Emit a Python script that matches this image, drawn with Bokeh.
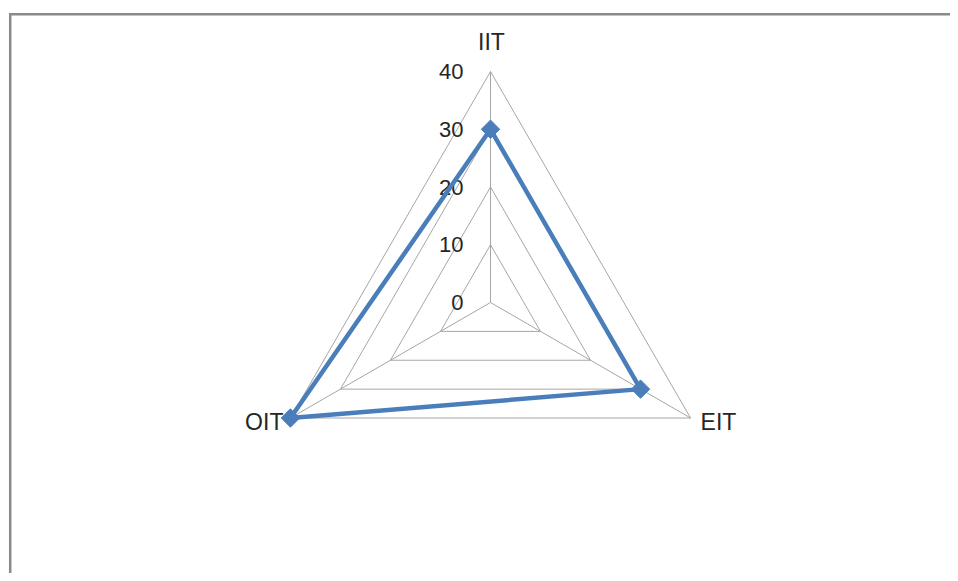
import math
from bokeh.plotting import figure
from bokeh.models import Range1d, ColumnDataSource
from bokeh.core.properties import value
from bokeh.embed import file_html
from bokeh.resources import INLINE

# ---- data ----
categories = ["IIT", "EIT", "OIT"]
series_values = [30, 30, 40]
ring_values = [0, 10, 20, 30, 40]
tick_labels = ["0", "10", "20", "30", "40"]
angles_deg = [90, -30, 210]

R_MAX = 40
W, H = 950, 573
PX_PER_UNIT = 231 / 40.0
CX, CY = 490, 302   # centre of the radar (pixels from top-left of canvas)

x0 = -CX / PX_PER_UNIT
x1 = (W - CX) / PX_PER_UNIT
y1 = CY / PX_PER_UNIT
y0 = -(H - CY) / PX_PER_UNIT

p = figure(width=W, height=H, output_backend="svg", toolbar_location=None,
           x_range=Range1d(x0, x1), y_range=Range1d(y0, y1),
           min_border_left=0, min_border_top=0, min_border_right=0, min_border_bottom=0)
p.axis.visible = False
p.grid.visible = False
p.outline_line_color = None
p.background_fill_color = "white"
p.border_fill_color = "white"

# chart-area border (only the left and top edges are inside the picture)
bx = (9.7 - CX) / PX_PER_UNIT
by = (CY - 13.7) / PX_PER_UNIT
p.line([bx, bx, x1 + 5], [y0 - 5, by, by], line_color="#8a8a8a", line_width=2.5,
       line_join="miter")

def pt(r, a):
    return r * math.cos(math.radians(a)), r * math.sin(math.radians(a))

grid_col = "#a6a6a6"
for rv in ring_values[1:]:
    xs = [pt(rv, a)[0] for a in angles_deg] + [pt(rv, angles_deg[0])[0]]
    ys = [pt(rv, a)[1] for a in angles_deg] + [pt(rv, angles_deg[0])[1]]
    p.line(xs, ys, line_color=grid_col, line_width=1)
for a in angles_deg:
    ex, ey = pt(R_MAX, a)
    p.line([0, ex], [0, ey], line_color=grid_col, line_width=1)

FONT = value("Liberation Sans")
TXT = "#262626"
# tick labels along the IIT spoke
p.text(x=[0] * len(ring_values), y=ring_values, text=tick_labels,
       x_offset=-27, y_offset=0, text_align="right", text_baseline="middle",
       text_font=FONT, text_font_size="22px", text_color=TXT)

# category labels
cx_ = [pt(R_MAX, a)[0] for a in angles_deg]
cy_ = [pt(R_MAX, a)[1] for a in angles_deg]
p.text(x=[cx_[0]], y=[cy_[0]], text=[categories[0]], x_offset=1, y_offset=-30,
       text_align="center", text_baseline="middle",
       text_font=FONT, text_font_size="23px", text_color=TXT)
p.text(x=[cx_[1]], y=[cy_[1]], text=[categories[1]], x_offset=10, y_offset=4,
       text_align="left", text_baseline="middle",
       text_font=FONT, text_font_size="23px", text_color=TXT)
p.text(x=[cx_[2]], y=[cy_[2]], text=[categories[2]], x_offset=-7, y_offset=4,
       text_align="right", text_baseline="middle",
       text_font=FONT, text_font_size="23px", text_color=TXT)

# series
sx = [pt(v, a)[0] for v, a in zip(series_values, angles_deg)]
sy = [pt(v, a)[1] for v, a in zip(series_values, angles_deg)]
src = ColumnDataSource(dict(x=sx, y=sy, cat=categories))
p.line(sx + [sx[0]], sy + [sy[0]], line_color="#4a7ebb", line_width=4.5, line_join="round")
p.scatter("x", "y", source=src, marker="square", angle=math.pi / 4, size=13,
          fill_color="#4a7ebb", line_color="#4a7ebb")

open("out.html", "w").write(file_html(p, INLINE))
